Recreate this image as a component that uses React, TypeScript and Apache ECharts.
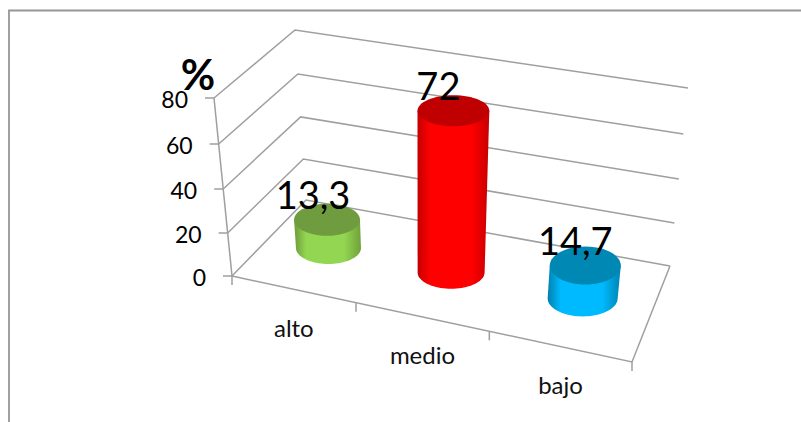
import React, { useEffect, useRef } from "react";
import * as echarts from "echarts";

const categories = ["alto", "medio", "bajo"];
const values = [13.3, 72, 14.7];
const valueLabels = ["13,3", "72", "14,7"];
const yTicks = [0, 20, 40, 60, 80];

// --- appearance -----------------------------------------------------------
const FONT = "Lato, Carlito, 'Noto Sans', sans-serif";
const LINE = "#9f9f9f";
const CORNERS = {
  fl0: [232, 276], fl1: [214, 98],
  bl0: [306, 200], bl1: [295, 30],
  br0: [670, 266], br1: [688, 88],
  fr0: [632, 362], fr1: [657, 164],
};
const BAR_RX = [32.5, 33.5, 35];
const BAR_RY = [16, 16.5, 18];
const BAR_TOP_RY = [16, 15.5, 19];
const LABEL_DX = [-14, -15, -10];
const SIDE_STOPS = [
  ["#6c9a38", "#93d651", "#70a03a"],
  ["#c40000", "#ff0000", "#c80000"],
  ["#0080ad", "#00baff", "#0083b0"],
];
const TOP_FILL = ["#6f9c3e", "#c00000", "#0088b5"];

const mix = (a: number[], b: number[], t: number) => [a[0] + (b[0] - a[0]) * t, a[1] + (b[1] - a[1]) * t];
const warpU = (t: number) => 0.895 * t + 0.105 * t * t;
const warpW = (t: number) => 0.955 * t + 0.045 * t * t;

// u: along the categories, v: front to back, w: 0..1 of the value axis
function project(u: number, v: number, w: number) {
  const h = warpW(w);
  const fl = mix(CORNERS.fl0, CORNERS.fl1, h);
  const bl = mix(CORNERS.bl0, CORNERS.bl1, h);
  const br = mix(CORNERS.br0, CORNERS.br1, h);
  const fr = mix(CORNERS.fr0, CORNERS.fr1, h);
  return mix(mix(fl, fr, u), mix(bl, br, u), v);
}

const fraction = (api: any, x: number, value: number) => {
  const y0 = api.coord([x, yTicks[0]])[1];
  const y1 = api.coord([x, yTicks[yTicks.length - 1]])[1];
  return (api.coord([x, value])[1] - y0) / (y1 - y0);
};

const lineStyle = { stroke: LINE, lineWidth: 1.5, fill: "none" };

function renderGridLine(_p: any, api: any) {
  const v = api.value(1);
  const w = fraction(api, 0, v);
  const a = project(0, 0, w);
  const b = project(0, 1, w);
  const c = project(1, 1, w);
  return {
    type: "group",
    children: [
      { type: "polyline", shape: { points: [a, b, c] }, style: lineStyle },
      { type: "line", shape: { x1: a[0] - 9, y1: a[1], x2: a[0], y2: a[1] }, style: lineStyle },
      {
        type: "text",
        style: {
          x: a[0] - 26, y: a[1] + 1, text: String(v), align: "right", verticalAlign: "middle",
          fontSize: 23, fontFamily: FONT, fill: "#000",
        },
      },
    ],
  };
}

function renderFloor() {
  const fl = project(0, 0, 0);
  const fr = project(1, 0, 0);
  const br = project(1, 1, 0);
  const tick = (p: number[]) => ({
    type: "line", shape: { x1: p[0], y1: p[1], x2: p[0], y2: p[1] + 9 }, style: lineStyle,
  });
  return {
    type: "group",
    children: [
      { type: "polyline", shape: { points: [fl, fr, br] }, style: lineStyle },
      { type: "line", shape: { x1: fl[0], y1: fl[1], x2: CORNERS.fl1[0], y2: CORNERS.fl1[1] }, style: lineStyle },
      tick(fl),
      tick(fr),
    ],
  };
}

function renderCategory(_p: any, api: any) {
  const i = api.value(0);
  const children: any[] = [];
  if (i < categories.length - 1) {
    const t = project(warpU((i + 1) / categories.length), 0, 0);
    children.push({ type: "line", shape: { x1: t[0], y1: t[1], x2: t[0], y2: t[1] + 9 }, style: lineStyle });
  }
  const c = project(warpU((i + 0.5) / categories.length), 0, 0);
  children.push({
    type: "text",
    style: {
      x: c[0] + 1, y: c[1] + 38, text: categories[i], align: "center", verticalAlign: "middle",
      fontSize: 24, fontFamily: FONT, fill: "#111",
    },
  });
  return { type: "group", children };
}

function renderBar(_p: any, api: any) {
  const i = api.value(0);
  const w = fraction(api, i, api.value(1));
  const u = warpU((i + 0.5) / categories.length);
  const bottom = project(u, 0.52, 0);
  const top = project(u, 0.52, w);
  const rxB = BAR_RX[i];
  const rxT = rxB * (1 + 0.08 * w);
  const pts: number[][] = [[top[0] - rxT, top[1]], [top[0] + rxT, top[1]]];
  const N = 40;
  for (let k = 0; k <= N; k++) {
    const a = (Math.PI * k) / N;
    pts.push([bottom[0] + rxB * Math.cos(a), bottom[1] + BAR_RY[i] * Math.sin(a)]);
  }
  const [edgeL, mid, edgeR] = SIDE_STOPS[i];
  return {
    type: "group",
    children: [
      {
        type: "polygon",
        shape: { points: pts },
        style: {
          fill: new echarts.graphic.LinearGradient(0, 0, 1, 0, [
            { offset: 0, color: edgeL },
            { offset: 0.18, color: mid },
            { offset: 0.75, color: mid },
            { offset: 1, color: edgeR },
          ]),
        },
      },
      { type: "ellipse", shape: { cx: top[0], cy: top[1], rx: rxT, ry: BAR_TOP_RY[i] }, style: { fill: TOP_FILL[i] } },
      {
        type: "text",
        z2: 10,
        style: {
          x: top[0] + LABEL_DX[i], y: top[1] - 26, text: valueLabels[i], align: "center", verticalAlign: "middle",
          fontSize: 38, fontFamily: FONT, fill: "#000",
        },
      },
    ],
  };
}

export default function App() {
  const ref = useRef<HTMLDivElement>(null);
  useEffect(() => {
    const chart = echarts.init(ref.current!, undefined, { renderer: "svg" });
    const common = { type: "custom", silent: true, clip: false, coordinateSystem: "cartesian2d" };
    chart.setOption({
      animation: false,
      backgroundColor: "#fff",
      grid: { left: 232, top: 98, width: 400, height: 178 },
      xAxis: { type: "category", data: categories, show: false },
      yAxis: { type: "value", min: 0, max: 80, interval: 20, show: false },
      graphic: [
        {
          type: "polyline",
          silent: true,
          shape: { points: [[9, 422], [9, 10.5], [801, 10.5]] },
          style: { stroke: "#969696", lineWidth: 1.8, fill: "none" },
        },
        {
          type: "text",
          silent: true,
          style: {
            x: 198, y: 74, text: "%", align: "center", verticalAlign: "middle",
            fontSize: 42, fontWeight: "bold", fontFamily: FONT, fill: "#000",
          },
        },
      ],
      series: [
        { ...common, z: 2, renderItem: renderGridLine, data: yTicks.map((v) => [0, v]) },
        { ...common, z: 2, renderItem: renderFloor, data: [[0, 0]] },
        { ...common, z: 2, renderItem: renderCategory, data: categories.map((_, i) => [i, 0]) },
        { ...common, z: 3, renderItem: renderBar, data: values.map((v, i) => [i, v]) },
      ],
    });
    return () => chart.dispose();
  }, []);
  return <div ref={ref} style={{ position: "fixed", left: 0, top: 0, width: 801, height: 422 }} />;
}
